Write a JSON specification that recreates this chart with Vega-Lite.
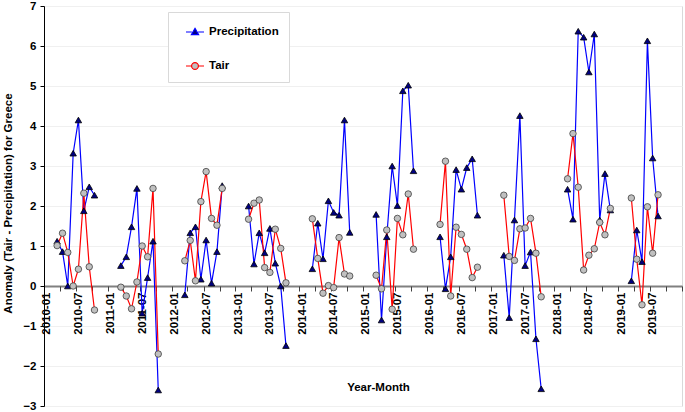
{
"$schema":"https://vega.github.io/schema/vega-lite/v6.json",
"width":638,"height":400,
"autosize":{"type":"none"},
"padding":{"left":44,"top":6,"right":3,"bottom":6},
"background":"white",
"config":{
 "view":{"stroke":"#d9d9d9","strokeWidth":1},
 "font":"Liberation Sans",
 "axis":{"labelFont":"Liberation Sans","titleFont":"Liberation Sans","labelFontWeight":"bold","titleFontWeight":"bold","labelFontSize":11.5,"titleFontSize":11.5,"labelColor":"#000","titleColor":"#000"},
 "axisY":{"labelOverlap":false,"tickCount":12}
},
"data":{"values":[
{"month":"2010-03","series":"Precipitation","value":1.12},{"month":"2010-04","series":"Precipitation","value":0.86},{"month":"2010-05","series":"Precipitation","value":0.0},{"month":"2010-06","series":"Precipitation","value":3.32},{"month":"2010-07","series":"Precipitation","value":4.15},{"month":"2010-08","series":"Precipitation","value":1.88},{"month":"2010-09","series":"Precipitation","value":2.48},{"month":"2010-10","series":"Precipitation","value":2.27},
{"month":"2011-03","series":"Precipitation","value":0.51},{"month":"2011-04","series":"Precipitation","value":0.73},{"month":"2011-05","series":"Precipitation","value":1.48},{"month":"2011-06","series":"Precipitation","value":2.44},{"month":"2011-07","series":"Precipitation","value":-0.68},{"month":"2011-08","series":"Precipitation","value":0.21},{"month":"2011-09","series":"Precipitation","value":1.12},{"month":"2011-10","series":"Precipitation","value":-2.6},
{"month":"2012-03","series":"Precipitation","value":-0.22},{"month":"2012-04","series":"Precipitation","value":1.33},{"month":"2012-05","series":"Precipitation","value":1.48},{"month":"2012-06","series":"Precipitation","value":0.17},{"month":"2012-07","series":"Precipitation","value":1.15},{"month":"2012-08","series":"Precipitation","value":0.07},{"month":"2012-09","series":"Precipitation","value":0.86},{"month":"2012-10","series":"Precipitation","value":2.51},
{"month":"2013-03","series":"Precipitation","value":2.0},{"month":"2013-04","series":"Precipitation","value":0.55},{"month":"2013-05","series":"Precipitation","value":1.33},{"month":"2013-06","series":"Precipitation","value":0.83},{"month":"2013-07","series":"Precipitation","value":1.44},{"month":"2013-08","series":"Precipitation","value":0.57},{"month":"2013-09","series":"Precipitation","value":0.0},{"month":"2013-10","series":"Precipitation","value":-1.49},
{"month":"2014-03","series":"Precipitation","value":0.43},{"month":"2014-04","series":"Precipitation","value":1.57},{"month":"2014-05","series":"Precipitation","value":0.68},{"month":"2014-06","series":"Precipitation","value":2.13},{"month":"2014-07","series":"Precipitation","value":1.84},{"month":"2014-08","series":"Precipitation","value":1.77},{"month":"2014-09","series":"Precipitation","value":4.15},{"month":"2014-10","series":"Precipitation","value":1.34},
{"month":"2015-03","series":"Precipitation","value":1.79},{"month":"2015-04","series":"Precipitation","value":-0.85},{"month":"2015-05","series":"Precipitation","value":1.23},{"month":"2015-06","series":"Precipitation","value":3.0},{"month":"2015-07","series":"Precipitation","value":2.01},{"month":"2015-08","series":"Precipitation","value":4.88},{"month":"2015-09","series":"Precipitation","value":5.02},{"month":"2015-10","series":"Precipitation","value":2.88},
{"month":"2016-03","series":"Precipitation","value":1.23},{"month":"2016-04","series":"Precipitation","value":-0.07},{"month":"2016-05","series":"Precipitation","value":0.73},{"month":"2016-06","series":"Precipitation","value":2.91},{"month":"2016-07","series":"Precipitation","value":2.42},{"month":"2016-08","series":"Precipitation","value":2.96},{"month":"2016-09","series":"Precipitation","value":3.18},{"month":"2016-10","series":"Precipitation","value":1.77},
{"month":"2017-03","series":"Precipitation","value":0.77},{"month":"2017-04","series":"Precipitation","value":-0.79},{"month":"2017-05","series":"Precipitation","value":1.65},{"month":"2017-06","series":"Precipitation","value":4.26},{"month":"2017-07","series":"Precipitation","value":0.51},{"month":"2017-08","series":"Precipitation","value":0.85},{"month":"2017-09","series":"Precipitation","value":-1.32},{"month":"2017-10","series":"Precipitation","value":-2.57},
{"month":"2018-03","series":"Precipitation","value":2.42},{"month":"2018-04","series":"Precipitation","value":1.67},{"month":"2018-05","series":"Precipitation","value":6.37},{"month":"2018-06","series":"Precipitation","value":6.22},{"month":"2018-07","series":"Precipitation","value":5.35},{"month":"2018-08","series":"Precipitation","value":6.3},{"month":"2018-09","series":"Precipitation","value":1.65},{"month":"2018-10","series":"Precipitation","value":2.81},{"month":"2018-11","series":"Precipitation","value":1.9},
{"month":"2019-03","series":"Precipitation","value":0.13},{"month":"2019-04","series":"Precipitation","value":1.4},{"month":"2019-05","series":"Precipitation","value":0.61},{"month":"2019-06","series":"Precipitation","value":6.13},{"month":"2019-07","series":"Precipitation","value":3.2},{"month":"2019-08","series":"Precipitation","value":1.75},
{"month":"2010-03","series":"Tair","value":1.01},{"month":"2010-04","series":"Tair","value":1.32},{"month":"2010-05","series":"Tair","value":0.84},{"month":"2010-06","series":"Tair","value":0.0},{"month":"2010-07","series":"Tair","value":0.42},{"month":"2010-08","series":"Tair","value":2.32},{"month":"2010-09","series":"Tair","value":0.48},{"month":"2010-10","series":"Tair","value":-0.6},
{"month":"2011-03","series":"Tair","value":-0.03},{"month":"2011-04","series":"Tair","value":-0.25},{"month":"2011-05","series":"Tair","value":-0.57},{"month":"2011-06","series":"Tair","value":0.1},{"month":"2011-07","series":"Tair","value":1.0},{"month":"2011-08","series":"Tair","value":0.73},{"month":"2011-09","series":"Tair","value":2.44},{"month":"2011-10","series":"Tair","value":-1.7},
{"month":"2012-03","series":"Tair","value":0.63},{"month":"2012-04","series":"Tair","value":1.14},{"month":"2012-05","series":"Tair","value":0.13},{"month":"2012-06","series":"Tair","value":2.11},{"month":"2012-07","series":"Tair","value":2.86},{"month":"2012-08","series":"Tair","value":1.69},{"month":"2012-09","series":"Tair","value":1.52},{"month":"2012-10","series":"Tair","value":2.44},
{"month":"2013-03","series":"Tair","value":1.67},{"month":"2013-04","series":"Tair","value":2.07},{"month":"2013-05","series":"Tair","value":2.15},{"month":"2013-06","series":"Tair","value":0.46},{"month":"2013-07","series":"Tair","value":0.34},{"month":"2013-08","series":"Tair","value":1.42},{"month":"2013-09","series":"Tair","value":0.94},{"month":"2013-10","series":"Tair","value":0.08},
{"month":"2014-03","series":"Tair","value":1.68},{"month":"2014-04","series":"Tair","value":0.69},{"month":"2014-05","series":"Tair","value":-0.18},{"month":"2014-06","series":"Tair","value":0.01},{"month":"2014-07","series":"Tair","value":-0.04},{"month":"2014-08","series":"Tair","value":1.21},{"month":"2014-09","series":"Tair","value":0.3},{"month":"2014-10","series":"Tair","value":0.25},
{"month":"2015-03","series":"Tair","value":0.27},{"month":"2015-04","series":"Tair","value":-0.07},{"month":"2015-05","series":"Tair","value":1.4},{"month":"2015-06","series":"Tair","value":-0.58},{"month":"2015-07","series":"Tair","value":1.69},{"month":"2015-08","series":"Tair","value":1.28},{"month":"2015-09","series":"Tair","value":2.3},{"month":"2015-10","series":"Tair","value":0.92},
{"month":"2016-03","series":"Tair","value":1.54},{"month":"2016-04","series":"Tair","value":3.12},{"month":"2016-05","series":"Tair","value":-0.25},{"month":"2016-06","series":"Tair","value":1.47},{"month":"2016-07","series":"Tair","value":1.29},{"month":"2016-08","series":"Tair","value":0.92},{"month":"2016-09","series":"Tair","value":0.21},{"month":"2016-10","series":"Tair","value":0.47},
{"month":"2017-03","series":"Tair","value":2.27},{"month":"2017-04","series":"Tair","value":0.74},{"month":"2017-05","series":"Tair","value":0.64},{"month":"2017-06","series":"Tair","value":1.43},{"month":"2017-07","series":"Tair","value":1.45},{"month":"2017-08","series":"Tair","value":1.69},{"month":"2017-09","series":"Tair","value":0.82},{"month":"2017-10","series":"Tair","value":-0.27},
{"month":"2018-03","series":"Tair","value":2.68},{"month":"2018-04","series":"Tair","value":3.81},{"month":"2018-05","series":"Tair","value":2.47},{"month":"2018-06","series":"Tair","value":0.4},{"month":"2018-07","series":"Tair","value":0.77},{"month":"2018-08","series":"Tair","value":0.93},{"month":"2018-09","series":"Tair","value":1.59},{"month":"2018-10","series":"Tair","value":1.28},{"month":"2018-11","series":"Tair","value":1.94},
{"month":"2019-03","series":"Tair","value":2.2},{"month":"2019-04","series":"Tair","value":0.67},{"month":"2019-05","series":"Tair","value":-0.47},{"month":"2019-06","series":"Tair","value":1.98},{"month":"2019-07","series":"Tair","value":0.82},{"month":"2019-08","series":"Tair","value":2.28}
]},
"layer":[
 {
  "mark":{"type":"line","strokeWidth":1.2},
  "encoding":{
   "x":{"field":"month","type":"temporal",
    "scale":{"type":"utc","domain":[{"year":2009,"month":12,"date":16,"utc":true},{"year":2019,"month":12,"date":16,"utc":true}]},
    "axis":{"orient":"bottom","offset":-120,"format":"%Y-%m","tickCount":30,"labelAngle":-90,"labelFlush":false,"labelOverlap":false,"labelBound":false,"ticks":false,"grid":false,
     "domainColor":"#808080","domainWidth":2,"labelPadding":6,
     "title":"Year-Month","titleX":334,"titleY":101,"titleBaseline":"middle","titleAlign":"center",
     "values":[{"year":2010,"month":1,"utc":true},{"year":2010,"month":7,"utc":true},{"year":2011,"month":1,"utc":true},{"year":2011,"month":7,"utc":true},{"year":2012,"month":1,"utc":true},{"year":2012,"month":7,"utc":true},{"year":2013,"month":1,"utc":true},{"year":2013,"month":7,"utc":true},{"year":2014,"month":1,"utc":true},{"year":2014,"month":7,"utc":true},{"year":2015,"month":1,"utc":true},{"year":2015,"month":7,"utc":true},{"year":2016,"month":1,"utc":true},{"year":2016,"month":7,"utc":true},{"year":2017,"month":1,"utc":true},{"year":2017,"month":7,"utc":true},{"year":2018,"month":1,"utc":true},{"year":2018,"month":7,"utc":true},{"year":2019,"month":1,"utc":true},{"year":2019,"month":7,"utc":true}]}},
   "y":{"field":"value","type":"quantitative",
    "scale":{"domain":[-3,7],"nice":false,"zero":false},
    "axis":{"values":[-3,-2,-1,0,1,2,3,4,5,6,7],"tickCount":12,"labelOverlap":false,"labelFlush":false,"tickSize":4,"tickColor":"#000","domainColor":"#000","labelPadding":4,"grid":true,"gridColor":"#f0f0f0",
     "title":"Anomaly (Tair - Precipitation) for Greece","titleX":-36,"titleY":197,"titleAngle":-90,"titleAlign":"center","titleBaseline":"middle"}},
   "color":{"field":"series","type":"nominal",
    "scale":{"domain":["Precipitation","Tair"],"range":["#0000FF","#FF0000"]},
    "legend":{"title":null,"orient":"none","legendX":124,"legendY":6,"strokeColor":"#d9d9d9","fillColor":"white","padding":10,"symbolOffset":7,"rowPadding":18,"symbolSize":324,"symbolStrokeWidth":1.2,"labelOffset":4,"labelFont":"Liberation Sans","labelFontSize":11.5,"labelFontWeight":"bold","labelColor":"#000",
     "encode":{"symbols":{"update":{
      "shape":{"signal":"datum.value === 'Precipitation' ? 'M-1,0H-0.35M0.35,0H1M0,-0.4L0.4,0.3L-0.4,0.3Z' : 'M-1,0H-0.38M0.38,0H1M0.38,0A0.38,0.38,0,1,1,-0.38,0A0.38,0.38,0,1,1,0.38,0Z'"},
      "fill":{"signal":"datum.value === 'Precipitation' ? '#000080' : '#C0C0C0'"},
      "fillOpacity":{"value":1}}}}}},
   "detail":{"field":"month","timeUnit":"utcyear","type":"temporal"}
  }
 },
 {
  "transform":[{"filter":"datum.series === 'Precipitation'"}],
  "mark":{"type":"point","filled":true,"shape":"triangle-up","size":42,"fill":"#000080","stroke":"#000000","strokeWidth":0.8,"opacity":1},
  "encoding":{
   "x":{"field":"month","type":"temporal",
    "axis":{"orient":"bottom","offset":-120,"tickCount":50,"labels":false,"domain":false,"ticks":true,"tickSize":5,"tickColor":"#404040","grid":false,"title":null,
     "values":[{"year":2009,"month":12,"date":16,"utc":true},
     {"year":2010,"month":3,"date":16,"utc":true},{"year":2010,"month":6,"date":16,"utc":true},{"year":2010,"month":9,"date":16,"utc":true},{"year":2010,"month":12,"date":16,"utc":true},
     {"year":2011,"month":3,"date":16,"utc":true},{"year":2011,"month":6,"date":16,"utc":true},{"year":2011,"month":9,"date":16,"utc":true},{"year":2011,"month":12,"date":16,"utc":true},
     {"year":2012,"month":3,"date":16,"utc":true},{"year":2012,"month":6,"date":16,"utc":true},{"year":2012,"month":9,"date":16,"utc":true},{"year":2012,"month":12,"date":16,"utc":true},
     {"year":2013,"month":3,"date":16,"utc":true},{"year":2013,"month":6,"date":16,"utc":true},{"year":2013,"month":9,"date":16,"utc":true},{"year":2013,"month":12,"date":16,"utc":true},
     {"year":2014,"month":3,"date":16,"utc":true},{"year":2014,"month":6,"date":16,"utc":true},{"year":2014,"month":9,"date":16,"utc":true},{"year":2014,"month":12,"date":16,"utc":true},
     {"year":2015,"month":3,"date":16,"utc":true},{"year":2015,"month":6,"date":16,"utc":true},{"year":2015,"month":9,"date":16,"utc":true},{"year":2015,"month":12,"date":16,"utc":true},
     {"year":2016,"month":3,"date":16,"utc":true},{"year":2016,"month":6,"date":16,"utc":true},{"year":2016,"month":9,"date":16,"utc":true},{"year":2016,"month":12,"date":16,"utc":true},
     {"year":2017,"month":3,"date":16,"utc":true},{"year":2017,"month":6,"date":16,"utc":true},{"year":2017,"month":9,"date":16,"utc":true},{"year":2017,"month":12,"date":16,"utc":true},
     {"year":2018,"month":3,"date":16,"utc":true},{"year":2018,"month":6,"date":16,"utc":true},{"year":2018,"month":9,"date":16,"utc":true},{"year":2018,"month":12,"date":16,"utc":true},
     {"year":2019,"month":3,"date":16,"utc":true},{"year":2019,"month":6,"date":16,"utc":true},{"year":2019,"month":9,"date":16,"utc":true},{"year":2019,"month":12,"date":16,"utc":true}]}},
   "y":{"field":"value","type":"quantitative"}
  }
 },
 {
  "transform":[{"filter":"datum.series === 'Tair'"}],
  "mark":{"type":"point","filled":true,"shape":"circle","size":42,"fill":"#C0C0C0","stroke":"#404040","strokeWidth":0.8,"opacity":1},
  "encoding":{
   "x":{"field":"month","type":"temporal","axis":null},
   "y":{"field":"value","type":"quantitative"}
  }
 }
],
"resolve":{"axis":{"x":"independent"}}
}
